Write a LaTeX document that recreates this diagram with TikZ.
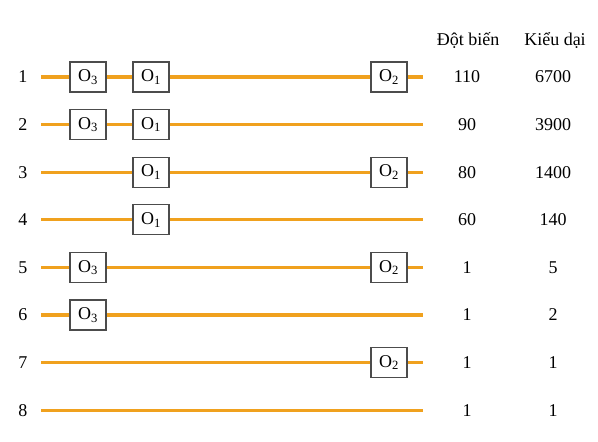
\documentclass[tikz,border=0pt]{standalone}
\usepackage{fontspec}
\setmainfont{Liberation Serif}
\usetikzlibrary{positioning}

\definecolor{dnaorange}{HTML}{F0A11E}
\tikzset{
  opbox/.style={draw=black!70, fill=white, line width=1.2pt,
    minimum width=36pt, minimum height=30pt, inner sep=0pt},
  dna/.style={dnaorange, line width=3.2pt},
}

\begin{document}
\begin{tikzpicture}[x=1pt,y=-1pt,font=\fontsize{18}{20}\selectfont]
  \useasboundingbox (0,0) rectangle (598,442);

  % column heads
  \node (headmut) at (468,40) {Đột biến};
  \node (headwt) at (555,40) {Kiểu dại};

  % one row per construct: number, mutant, wild type
  \foreach \n/\mut/\wt in {1/110/6700,2/90/3900,3/80/1400,4/60/140,
                           5/1/5,6/1/2,7/1/1,8/1/1}{
    \pgfmathsetmacro{\y}{77+47.6*(\n-1)}
    \node (lab\n) at (23,\y) {\n};
    \coordinate (s\n) at (41,\y);
    \coordinate (e\n) at (423,\y);
    \draw[dna] (s\n) -- (e\n);
    \node (mut\n) at (467,\y) {\mut};
    \node (wt\n) at (553,\y) {\wt};
  }

  % operators on each row
  \foreach \n/\o/\ox in {1/3/88,1/1/151,1/2/389,
                         2/3/88,2/1/151,
                         3/1/151,3/2/389,
                         4/1/151,
                         5/3/88,5/2/389,
                         6/3/88,
                         7/2/389}{
    \node[opbox] (op\n\o) at (\ox,{77+47.6*(\n-1)}) {O\textsubscript{\o}};
  }
\end{tikzpicture}
\end{document}
